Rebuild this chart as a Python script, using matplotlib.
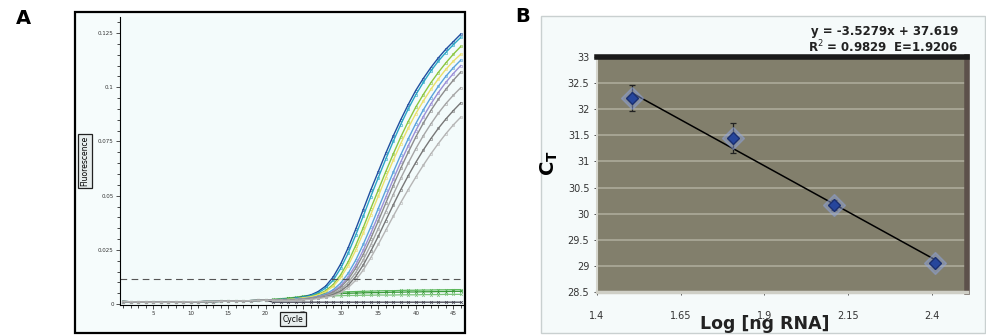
import matplotlib.pyplot as plt
import matplotlib.patches as patches
import numpy as np

# ---- panel A: amplification curves (fluorescence vs cycle) ----
cycles = list(range(1, 47))
baseline = [0.0012, 0.0011, 0.0010, 0.0010, 0.0009, 0.0009, 0.0009, 0.0010, 0.0010, 0.0011,
            0.0011, 0.0012, 0.0012, 0.0013, 0.0014, 0.0014, 0.0015, 0.0016, 0.0017, 0.0018]

# cycles 21..46
amp_curves = {
    '#1f4fa0': [0.0020, 0.0021, 0.0023, 0.0027, 0.0033, 0.0042, 0.0058, 0.0083, 0.0125, 0.0185, 0.0260, 0.0345, 0.0435,
                0.0525, 0.0610, 0.0695, 0.0775, 0.0850, 0.0920, 0.0985, 0.1040, 0.1090, 0.1135, 0.1175, 0.1210, 0.1245],
    '#2aa7c6': [0.0020, 0.0021, 0.0023, 0.0026, 0.0031, 0.0039, 0.0052, 0.0074, 0.0110, 0.0165, 0.0235, 0.0318, 0.0405,
                0.0495, 0.0582, 0.0668, 0.0750, 0.0828, 0.0900, 0.0965, 0.1022, 0.1074, 0.1120, 0.1160, 0.1196, 0.1230],
    '#8cc63f': [0.0020, 0.0020, 0.0022, 0.0025, 0.0029, 0.0035, 0.0045, 0.0062, 0.0090, 0.0135, 0.0195, 0.0270, 0.0352,
                0.0440, 0.0525, 0.0610, 0.0692, 0.0770, 0.0842, 0.0908, 0.0966, 0.1020, 0.1068, 0.1112, 0.1152, 0.1188],
    '#ece06a': [0.0020, 0.0020, 0.0021, 0.0024, 0.0028, 0.0033, 0.0042, 0.0057, 0.0082, 0.0122, 0.0178, 0.0248, 0.0328,
                0.0412, 0.0497, 0.0582, 0.0663, 0.0740, 0.0812, 0.0878, 0.0936, 0.0990, 0.1038, 0.1082, 0.1120, 0.1152],
    '#5ba3dc': [0.0019, 0.0019, 0.0020, 0.0022, 0.0025, 0.0029, 0.0036, 0.0047, 0.0066, 0.0097, 0.0142, 0.0202, 0.0275,
                0.0355, 0.0440, 0.0525, 0.0608, 0.0688, 0.0762, 0.0832, 0.0895, 0.0952, 0.1004, 0.1050, 0.1090, 0.1125],
    '#9b8fd6': [0.0019, 0.0019, 0.0020, 0.0021, 0.0024, 0.0028, 0.0034, 0.0043, 0.0059, 0.0085, 0.0125, 0.0180, 0.0248,
                0.0325, 0.0408, 0.0492, 0.0575, 0.0655, 0.0730, 0.0800, 0.0864, 0.0922, 0.0975, 0.1022, 0.1063, 0.1100],
    '#8c8c8c': [0.0018, 0.0018, 0.0019, 0.0021, 0.0023, 0.0027, 0.0032, 0.0041, 0.0055, 0.0078, 0.0114, 0.0165, 0.0228,
                0.0302, 0.0382, 0.0465, 0.0547, 0.0626, 0.0700, 0.0770, 0.0834, 0.0892, 0.0944, 0.0990, 0.1032, 0.1070],
    '#a6a6a6': [0.0018, 0.0018, 0.0019, 0.0020, 0.0022, 0.0025, 0.0030, 0.0037, 0.0049, 0.0068, 0.0099, 0.0145, 0.0203,
                0.0272, 0.0348, 0.0427, 0.0505, 0.0580, 0.0650, 0.0716, 0.0776, 0.0830, 0.0880, 0.0924, 0.0963, 0.0998],
    '#777777': [0.0017, 0.0017, 0.0018, 0.0019, 0.0021, 0.0024, 0.0028, 0.0034, 0.0044, 0.0060, 0.0087, 0.0127, 0.0180,
                0.0243, 0.0312, 0.0385, 0.0457, 0.0527, 0.0592, 0.0653, 0.0710, 0.0762, 0.0810, 0.0853, 0.0892, 0.0928],
    '#b5b5b5': [0.0017, 0.0017, 0.0017, 0.0018, 0.0020, 0.0022, 0.0026, 0.0031, 0.0039, 0.0053, 0.0076, 0.0110, 0.0157,
                0.0213, 0.0275, 0.0340, 0.0405, 0.0468, 0.0528, 0.0585, 0.0640, 0.0692, 0.0740, 0.0785, 0.0826, 0.0862],
}
flat_curves = {
    '#5cb85c': [0.0022, 0.0025, 0.0028, 0.0032, 0.0037, 0.0042, 0.0047, 0.005, 0.0053, 0.0055, 0.0057, 0.0058, 0.0059,
                0.006, 0.0061, 0.0062, 0.0062, 0.0063, 0.0064, 0.0064, 0.0065, 0.0065, 0.0066, 0.0066, 0.0067, 0.0067],
    '#3a9a3a': [0.0021, 0.0023, 0.0026, 0.0029, 0.0033, 0.0038, 0.0042, 0.0045, 0.0047, 0.0049, 0.005, 0.0051, 0.0052,
                0.0053, 0.0053, 0.0054, 0.0055, 0.0055, 0.0056, 0.0056, 0.0057, 0.0057, 0.0058, 0.0058, 0.0059, 0.0059],
    '#7cc47c': [0.0020, 0.0022, 0.0024, 0.0026, 0.0029, 0.0032, 0.0035, 0.0037, 0.0038, 0.0039, 0.004, 0.004, 0.0041,
                0.0041, 0.0042, 0.0042, 0.0042, 0.0043, 0.0043, 0.0043, 0.0044, 0.0044, 0.0044, 0.0045, 0.0045, 0.0045],
    '#3d3d4a': [0.0009, 0.0009, 0.0009, 0.0009, 0.0009, 0.0009, 0.0009, 0.0009, 0.0009, 0.0009, 0.0009, 0.0009, 0.0009,
                0.0009, 0.0009, 0.0009, 0.0009, 0.0009, 0.0009, 0.0009, 0.0009, 0.0009, 0.0009, 0.0009, 0.0009, 0.0009],
}
threshold = 0.0114

# ---- panel B: standard curve ----
log_ng = [1.505, 1.806, 2.107, 2.408]
ct_mean = [32.21, 31.45, 30.17, 29.05]
ct_err = [0.25, 0.28, 0.10, 0.03]
slope, intercept = -3.5279, 37.619

W, H = 986, 336
fig = plt.figure(figsize=(9.86, 3.36), dpi=100)


def fx(px):
    return px / W


def fy(py):
    return 1 - py / H


# panel A frame
fig.patches.append(patches.Rectangle((fx(75), fy(333)), fx(465) - fx(75), fy(12) - fy(333),
                                     transform=fig.transFigure, fill=True, facecolor='#f6fcfc',
                                     edgecolor='black', lw=1.6, zorder=-5))
axA = fig.add_axes([fx(120), fy(305), fx(463) - fx(120), fy(17) - fy(305)])
axA.set_facecolor('#f3fbfb')
for c, vals in flat_curves.items():
    axA.plot(cycles, baseline + vals, color=c, lw=0.9, marker='x', ms=2, mew=0.5)
for c, vals in amp_curves.items():
    axA.plot(cycles, baseline + vals, color=c, lw=1.0, marker='o', ms=1.8, mfc='none', mew=0.4)
axA.axhline(threshold, color='#555555', lw=0.8, ls=(0, (6, 4)))
axA.set_xlim(0.6, 46.3)
axA.set_ylim(-0.0004, 0.1324)
axA.set_xticks([5, 10, 15, 20, 25, 30, 35, 40, 45])
axA.set_xticks(range(1, 47), minor=True)
axA.set_yticks([0, 0.025, 0.05, 0.075, 0.1, 0.125])
axA.set_yticklabels(['0', '0.025', '0.05', '0.075', '0.1', '0.125'])
axA.set_yticks(np.arange(0, 0.1325, 0.005), minor=True)
axA.tick_params(labelsize=4, colors='#333333', length=3, width=0.6, pad=1.5)
axA.tick_params(which='minor', length=2, width=0.5)
axA.spines['top'].set_visible(False)
axA.spines['right'].set_visible(False)
axA.spines['left'].set_linewidth(0.8)
axA.spines['bottom'].set_linewidth(0.8)
fig.text(fx(85), fy(161), 'Fluorescence', rotation=90, fontsize=5.5, ha='center', va='center',
         bbox=dict(boxstyle='square,pad=0.3', fc='#e8eeee', ec='#222222', lw=0.9))
fig.text(fx(293), fy(319), 'Cycle', fontsize=5.5, ha='center', va='center',
         bbox=dict(boxstyle='square,pad=0.3', fc='#e8eeee', ec='#222222', lw=0.9))
fig.text(fx(23), fy(18), 'A', fontsize=14, fontweight='bold', ha='center', va='center')

# panel B frame
fig.patches.append(patches.Rectangle((fx(541), fy(333)), fx(985) - fx(541), fy(16) - fy(333),
                                     transform=fig.transFigure, facecolor='#f5fafa',
                                     edgecolor='#c9d0d0', lw=1.0, zorder=-5))
axB = fig.add_axes([fx(597), fy(292), fx(967) - fx(597), fy(57) - fy(292)])
axB.set_facecolor('#827f6c')
axB.set_xlim(1.4, 2.505)
axB.set_ylim(28.5, 33)
axB.set_yticks([28.5, 29, 29.5, 30, 30.5, 31, 31.5, 32, 32.5, 33])
axB.set_yticklabels(['28.5', '29', '29.5', '30', '30.5', '31', '31.5', '32', '32.5', '33'])
axB.set_xticks([1.4, 1.65, 1.9, 2.15, 2.4])
axB.set_xticklabels(['1.4', '1.65', '1.9', '2.15', '2.4'])
axB.grid(axis='y', color='#b0ae9e', lw=1.1)
axB.set_axisbelow(True)
axB.tick_params(labelsize=7, colors='#333333', length=2, width=0.6)
axB.tick_params(axis='x', pad=12)
axB.spines['top'].set_color('#1a1a1a')
axB.spines['top'].set_linewidth(4)
axB.spines['right'].set_color('#5d514b')
axB.spines['right'].set_linewidth(4)
axB.spines['bottom'].set_color('#cfcfc6')
axB.spines['bottom'].set_linewidth(2.5)
axB.spines['left'].set_color('#d5d5cc')
axB.spines['left'].set_linewidth(1.5)

xfit = np.array([log_ng[0], log_ng[-1]])
axB.plot(xfit, slope * xfit + intercept, color='black', lw=1.1, zorder=3)
axB.errorbar(log_ng, ct_mean, yerr=ct_err, fmt='none', ecolor='#222222', elinewidth=0.9,
             capsize=2.5, capthick=0.9, zorder=4)
axB.plot(log_ng, ct_mean, ls='none', marker='D', ms=11, color='#8fa3dc', alpha=0.45, zorder=4)
axB.plot(log_ng, ct_mean, ls='none', marker='D', ms=6.5, color='#26469c', mec='#1a2f70', zorder=5)

fig.text(fx(958), fy(31), 'y = -3.5279x + 37.619', fontsize=8.5, fontweight='bold', ha='right',
         va='center', color='#222222')
fig.text(fx(958), fy(47), 'R$^2$ = 0.9829  E=1.9206', fontsize=8.5, fontweight='bold', ha='right',
         va='center', color='#222222')
fig.text(fx(549), fy(163), r'$\mathbf{C_T}$', fontsize=14, rotation=90, ha='center', va='center')
fig.text(fx(765), fy(324), 'Log [ng RNA]', fontsize=12.5, fontweight='bold', ha='center',
         va='center', color='#222222')
fig.text(fx(523), fy(17), 'B', fontsize=14, fontweight='bold', ha='center', va='center')

fig.savefig('out.png', dpi=100)
